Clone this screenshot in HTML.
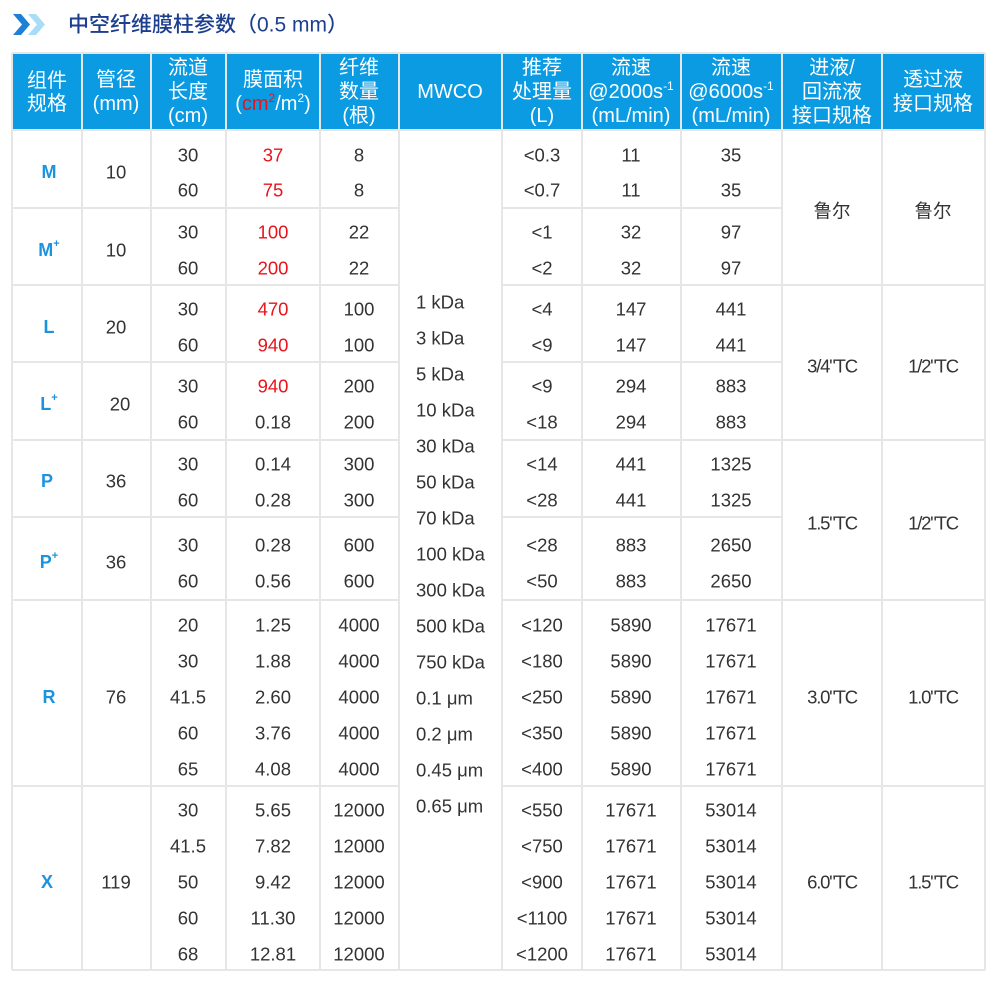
<!DOCTYPE html>
<html><head><meta charset="utf-8"><style>
html,body{margin:0;padding:0;background:#fff;}
svg{display:block;}
text{font-family:"Liberation Sans","Noto Sans CJK SC",sans-serif;}
.h{fill:#fff;font-size:20px;text-anchor:middle;dominant-baseline:central;}
.d{fill:#333;font-size:18.5px;text-anchor:middle;dominant-baseline:central;}
.r{fill:#e8141b;}
.g{fill:#1b93e0;font-size:18px;font-weight:bold;text-anchor:middle;dominant-baseline:central;}
.m{fill:#333;font-size:18.5px;dominant-baseline:central;}
.t{letter-spacing:-1.2px;}
</style></head><body>
<svg width="1000" height="987" xmlns="http://www.w3.org/2000/svg">
<polygon points="13,14 21,14 30,24.5 21,35 13,35 22,24.5" fill="#1d7fd6"/>
<polygon points="28,14 36,14 45,24.5 36,35 28,35 37,24.5" fill="#a9dcf7"/>
<text x="68" y="25" style="font-size:21px;fill:#1d3f8f;dominant-baseline:central;font-weight:500;">中空纤维膜柱参数（0.5 mm）</text>
<rect x="12" y="53" width="973" height="77" fill="#0a9be3"/>
<g stroke="#e6e6e6" stroke-width="2">
<line x1="12" y1="53" x2="985" y2="53"/>
<line x1="12" y1="130" x2="985" y2="130"/>
<line x1="12" y1="970" x2="985" y2="970"/>
<line x1="12" y1="53" x2="12" y2="970"/><line x1="82" y1="53" x2="82" y2="970"/><line x1="151" y1="53" x2="151" y2="970"/><line x1="226" y1="53" x2="226" y2="970"/><line x1="320" y1="53" x2="320" y2="970"/><line x1="399" y1="53" x2="399" y2="970"/><line x1="502" y1="53" x2="502" y2="970"/><line x1="582" y1="53" x2="582" y2="970"/><line x1="681" y1="53" x2="681" y2="970"/><line x1="782" y1="53" x2="782" y2="970"/><line x1="882" y1="53" x2="882" y2="970"/><line x1="985" y1="53" x2="985" y2="970"/>
<line x1="12" y1="208" x2="399" y2="208"/><line x1="12" y1="285" x2="399" y2="285"/><line x1="12" y1="362" x2="399" y2="362"/><line x1="12" y1="440" x2="399" y2="440"/><line x1="12" y1="517" x2="399" y2="517"/><line x1="12" y1="600" x2="399" y2="600"/><line x1="12" y1="786" x2="399" y2="786"/>
<line x1="502" y1="208" x2="782" y2="208"/><line x1="502" y1="285" x2="782" y2="285"/><line x1="502" y1="362" x2="782" y2="362"/><line x1="502" y1="440" x2="782" y2="440"/><line x1="502" y1="517" x2="782" y2="517"/><line x1="502" y1="600" x2="782" y2="600"/><line x1="502" y1="786" x2="782" y2="786"/>
<line x1="782" y1="285" x2="985" y2="285"/><line x1="782" y1="440" x2="985" y2="440"/><line x1="782" y1="600" x2="985" y2="600"/><line x1="782" y1="786" x2="985" y2="786"/>
</g>
<text class="h" x="47" y="81">组件</text><text class="h" x="47" y="104">规格</text>
<text class="h" x="116" y="80">管径</text><text class="h" x="116" y="104">(mm)</text>
<text class="h" x="188" y="68">流道</text><text class="h" x="188" y="92">长度</text><text class="h" x="188" y="116">(cm)</text>
<text class="h" x="273" y="80">膜面积</text><text class="h" x="273" y="104">(<tspan fill="#e8141b">cm<tspan font-size="12" dy="-6">2</tspan></tspan><tspan dy="6">/m</tspan><tspan font-size="12" dy="-6">2</tspan><tspan dy="6">)</tspan></text>
<text class="h" x="359" y="68">纤维</text><text class="h" x="359" y="92">数量</text><text class="h" x="359" y="116">(根)</text>
<text class="h" x="450" y="92">MWCO</text>
<text class="h" x="542" y="68">推荐</text><text class="h" x="542" y="92">处理量</text><text class="h" x="542" y="116">(L)</text>
<text class="h" x="631" y="68">流速</text><text class="h" x="631" y="92">@2000s<tspan font-size="12" dy="-6">-1</tspan></text><text class="h" x="631" y="116">(mL/min)</text>
<text class="h" x="731" y="68">流速</text><text class="h" x="731" y="92">@6000s<tspan font-size="12" dy="-6">-1</tspan></text><text class="h" x="731" y="116">(mL/min)</text>
<text class="h" x="832" y="68">进液/</text><text class="h" x="832" y="92">回流液</text><text class="h" x="832" y="116">接口规格</text>
<text class="h" x="933" y="80">透过液</text><text class="h" x="933" y="104">接口规格</text>
<text class="g" x="49" y="172">M</text><text class="d" x="116" y="172">10</text>
<text class="g" x="49" y="250">M<tspan font-size="11" dy="-6">+</tspan></text><text class="d" x="116" y="250">10</text>
<text class="g" x="49" y="327">L</text><text class="d" x="116" y="327">20</text>
<text class="g" x="49" y="404">L<tspan font-size="11" dy="-6">+</tspan></text><text class="d" x="120" y="404">20</text>
<text class="g" x="47" y="481">P</text><text class="d" x="116" y="481">36</text>
<text class="g" x="49" y="562">P<tspan font-size="11" dy="-6">+</tspan></text><text class="d" x="116" y="562">36</text>
<text class="g" x="49" y="697">R</text><text class="d" x="116" y="697">76</text>
<text class="g" x="47" y="882">X</text><text class="d" x="116" y="882">119</text>
<text class="d" x="188" y="155">30</text><text class="d r" x="273" y="155">37</text><text class="d" x="359" y="155">8</text><text class="d" x="542" y="155">&lt;0.3</text><text class="d" x="631" y="155">11</text><text class="d" x="731" y="155">35</text>
<text class="d" x="188" y="190">60</text><text class="d r" x="273" y="190">75</text><text class="d" x="359" y="190">8</text><text class="d" x="542" y="190">&lt;0.7</text><text class="d" x="631" y="190">11</text><text class="d" x="731" y="190">35</text>
<text class="d" x="188" y="232">30</text><text class="d r" x="273" y="232">100</text><text class="d" x="359" y="232">22</text><text class="d" x="542" y="232">&lt;1</text><text class="d" x="631" y="232">32</text><text class="d" x="731" y="232">97</text>
<text class="d" x="188" y="268">60</text><text class="d r" x="273" y="268">200</text><text class="d" x="359" y="268">22</text><text class="d" x="542" y="268">&lt;2</text><text class="d" x="631" y="268">32</text><text class="d" x="731" y="268">97</text>
<text class="d" x="188" y="309">30</text><text class="d r" x="273" y="309">470</text><text class="d" x="359" y="309">100</text><text class="d" x="542" y="309">&lt;4</text><text class="d" x="631" y="309">147</text><text class="d" x="731" y="309">441</text>
<text class="d" x="188" y="345">60</text><text class="d r" x="273" y="345">940</text><text class="d" x="359" y="345">100</text><text class="d" x="542" y="345">&lt;9</text><text class="d" x="631" y="345">147</text><text class="d" x="731" y="345">441</text>
<text class="d" x="188" y="386">30</text><text class="d r" x="273" y="386">940</text><text class="d" x="359" y="386">200</text><text class="d" x="542" y="386">&lt;9</text><text class="d" x="631" y="386">294</text><text class="d" x="731" y="386">883</text>
<text class="d" x="188" y="422">60</text><text class="d" x="273" y="422">0.18</text><text class="d" x="359" y="422">200</text><text class="d" x="542" y="422">&lt;18</text><text class="d" x="631" y="422">294</text><text class="d" x="731" y="422">883</text>
<text class="d" x="188" y="464">30</text><text class="d" x="273" y="464">0.14</text><text class="d" x="359" y="464">300</text><text class="d" x="542" y="464">&lt;14</text><text class="d" x="631" y="464">441</text><text class="d" x="731" y="464">1325</text>
<text class="d" x="188" y="500">60</text><text class="d" x="273" y="500">0.28</text><text class="d" x="359" y="500">300</text><text class="d" x="542" y="500">&lt;28</text><text class="d" x="631" y="500">441</text><text class="d" x="731" y="500">1325</text>
<text class="d" x="188" y="545">30</text><text class="d" x="273" y="545">0.28</text><text class="d" x="359" y="545">600</text><text class="d" x="542" y="545">&lt;28</text><text class="d" x="631" y="545">883</text><text class="d" x="731" y="545">2650</text>
<text class="d" x="188" y="581">60</text><text class="d" x="273" y="581">0.56</text><text class="d" x="359" y="581">600</text><text class="d" x="542" y="581">&lt;50</text><text class="d" x="631" y="581">883</text><text class="d" x="731" y="581">2650</text>
<text class="d" x="188" y="625">20</text><text class="d" x="273" y="625">1.25</text><text class="d" x="359" y="625">4000</text><text class="d" x="542" y="625">&lt;120</text><text class="d" x="631" y="625">5890</text><text class="d" x="731" y="625">17671</text>
<text class="d" x="188" y="661">30</text><text class="d" x="273" y="661">1.88</text><text class="d" x="359" y="661">4000</text><text class="d" x="542" y="661">&lt;180</text><text class="d" x="631" y="661">5890</text><text class="d" x="731" y="661">17671</text>
<text class="d" x="188" y="697">41.5</text><text class="d" x="273" y="697">2.60</text><text class="d" x="359" y="697">4000</text><text class="d" x="542" y="697">&lt;250</text><text class="d" x="631" y="697">5890</text><text class="d" x="731" y="697">17671</text>
<text class="d" x="188" y="733">60</text><text class="d" x="273" y="733">3.76</text><text class="d" x="359" y="733">4000</text><text class="d" x="542" y="733">&lt;350</text><text class="d" x="631" y="733">5890</text><text class="d" x="731" y="733">17671</text>
<text class="d" x="188" y="769">65</text><text class="d" x="273" y="769">4.08</text><text class="d" x="359" y="769">4000</text><text class="d" x="542" y="769">&lt;400</text><text class="d" x="631" y="769">5890</text><text class="d" x="731" y="769">17671</text>
<text class="d" x="188" y="810">30</text><text class="d" x="273" y="810">5.65</text><text class="d" x="359" y="810">12000</text><text class="d" x="542" y="810">&lt;550</text><text class="d" x="631" y="810">17671</text><text class="d" x="731" y="810">53014</text>
<text class="d" x="188" y="846">41.5</text><text class="d" x="273" y="846">7.82</text><text class="d" x="359" y="846">12000</text><text class="d" x="542" y="846">&lt;750</text><text class="d" x="631" y="846">17671</text><text class="d" x="731" y="846">53014</text>
<text class="d" x="188" y="882">50</text><text class="d" x="273" y="882">9.42</text><text class="d" x="359" y="882">12000</text><text class="d" x="542" y="882">&lt;900</text><text class="d" x="631" y="882">17671</text><text class="d" x="731" y="882">53014</text>
<text class="d" x="188" y="918">60</text><text class="d" x="273" y="918">11.30</text><text class="d" x="359" y="918">12000</text><text class="d" x="542" y="918">&lt;1100</text><text class="d" x="631" y="918">17671</text><text class="d" x="731" y="918">53014</text>
<text class="d" x="188" y="954">68</text><text class="d" x="273" y="954">12.81</text><text class="d" x="359" y="954">12000</text><text class="d" x="542" y="954">&lt;1200</text><text class="d" x="631" y="954">17671</text><text class="d" x="731" y="954">53014</text>
<text class="m" x="416" y="302">1 kDa</text><text class="m" x="416" y="338">3 kDa</text><text class="m" x="416" y="374">5 kDa</text><text class="m" x="416" y="410">10 kDa</text><text class="m" x="416" y="446">30 kDa</text><text class="m" x="416" y="482">50 kDa</text><text class="m" x="416" y="518">70 kDa</text><text class="m" x="416" y="554">100 kDa</text><text class="m" x="416" y="590">300 kDa</text><text class="m" x="416" y="626">500 kDa</text><text class="m" x="416" y="662">750 kDa</text><text class="m" x="416" y="698">0.1 μm</text><text class="m" x="416" y="734">0.2 μm</text><text class="m" x="416" y="770">0.45 μm</text><text class="m" x="416" y="806">0.65 μm</text>
<text class="d" x="832" y="211">鲁尔</text><text class="d" x="933" y="211">鲁尔</text>
<text class="d t" x="832" y="366">3/4"TC</text><text class="d t" x="933" y="366">1/2"TC</text>
<text class="d t" x="832" y="523">1.5"TC</text><text class="d t" x="933" y="523">1/2"TC</text>
<text class="d t" x="832" y="697">3.0"TC</text><text class="d t" x="933" y="697">1.0"TC</text>
<text class="d t" x="832" y="882">6.0"TC</text><text class="d t" x="933" y="882">1.5"TC</text>
</svg>
</body></html>
